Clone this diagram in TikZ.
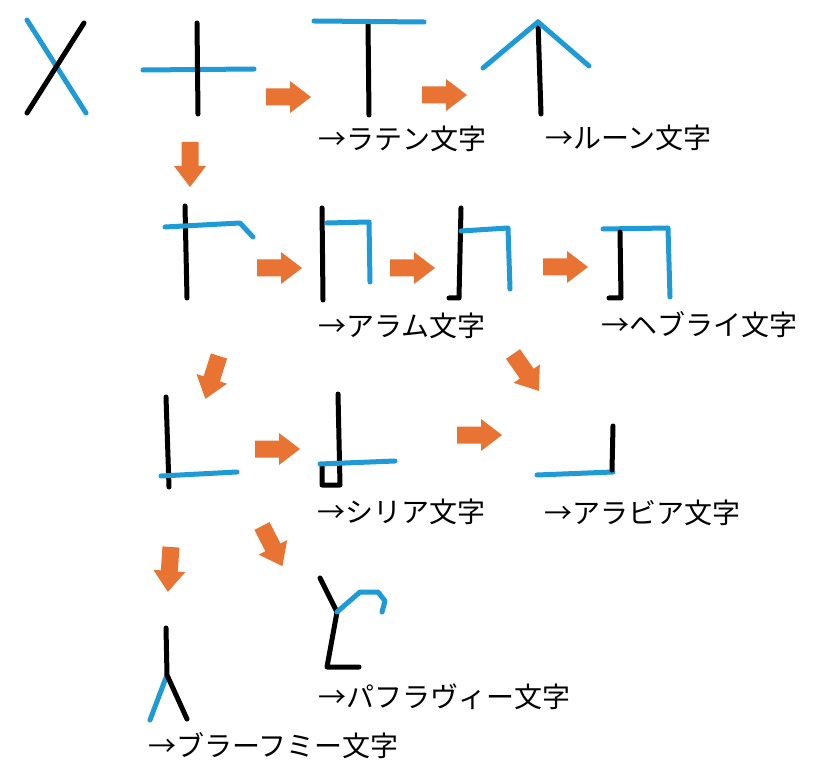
\documentclass[tikz,border=0pt]{standalone}
\usepackage{fontspec}
\newfontfamily\jpfont{Noto Sans CJK JP}
\definecolor{strokeblue}{RGB}{30,155,215}
\definecolor{arroworange}{RGB}{233,115,50}
\tikzset{
  bk/.style={draw=black, line width=5pt, line cap=round, line join=round},
  bl/.style={draw=strokeblue, line width=5pt, line cap=round, line join=round},
  lbl/.style={anchor=west, inner sep=0pt, font=\jpfont\fontsize{28}{28}\selectfont},
  barrow/.pic={\fill[arroworange] (0,-8.5) -- (24,-8.5) -- (24,-16) -- (45,0) -- (24,16) -- (24,8.5) -- (0,8.5) -- cycle;}
}
\begin{document}
\begin{tikzpicture}[x=1pt,y=-1pt]
\useasboundingbox[fill=white] (0,0) rectangle (819,783);
% row 1
\draw[bl] (27,20) -- (86,113);
\draw[bk] (84,23) -- (27,113);
\draw[bl] (143,70) -- (254,69);
\draw[bk] (197,23) -- (198,114);
\draw[bk] (368,23) -- (369,115);
\draw[bl] (314,21) -- (424,22);
\draw[bk] (538,22) -- (541,114);
\draw[bl] (483,68) -- (538,22) -- (589,66);
\pic at (266,97) {barrow};
\pic at (422,95) {barrow};
\pic[rotate=-90] at (190,142) {barrow};
\node[lbl] (latin) at (318,139) {→ラテン文字};
\node[lbl] (rune) at (545,138) {→ルーン文字};
% row 2
\draw[bk] (185,206) -- (187,298);
\draw[bl] (165,227) -- (240,223) -- (253,237);
\pic at (257,268) {barrow};
\draw[bk] (322,208) -- (323,300);
\draw[bl] (327,223) -- (369,222) -- (370,282);
\pic at (390,268) {barrow};
\draw[bk] (461,208) -- (459,298) -- (449,298);
\draw[bl] (461,231) -- (508,228) -- (510,289);
\pic at (543,267) {barrow};
\draw[bl] (603,229) -- (668,228) -- (670,297);
\draw[bk] (620,232) -- (621,298) -- (609,298);
\node[lbl] (aramaic) at (318,326) {→アラム文字};
\node[lbl] (hebrew) at (601,325) {→ヘブライ文字};
% row 3
\pic[rotate=-107.6] at (219,356) {barrow};
\pic[rotate=-55] at (513,354) {barrow};
\draw[bk] (166,397) -- (169,487);
\draw[bl] (161,476) -- (237,472);
\pic at (255,449) {barrow};
\draw[bk] (338,394) -- (340,485) -- (322,485) -- (322,465);
\draw[bl] (320,464) -- (395,461);
\pic at (457,435) {barrow};
\draw[bl] (537,475) -- (613,472);
\draw[bk] (613,426) -- (612,470);
\node[lbl] (syriac) at (317,512) {→シリア文字};
\node[lbl] (arabic) at (544,513) {→アラビア文字};
% row 4
\pic[rotate=-94] at (171,547) {barrow};
\pic[rotate=-63] at (262,526) {barrow};
\draw[bl] (150,720) -- (167,675);
\draw[bk] (166,628) -- (167,675) -- (187,719);
\draw[bk] (320,578) -- (337,612) -- (327,667) -- (359,667);
\draw[bl] (337,612) -- (360,592) -- (378,592) -- (385,601) -- (382,612);
\node[lbl] (pahlavi) at (318,697) {→パフラヴィー文字};
\node[lbl] (brahmi) at (148,746) {→ブラーフミー文字};
\end{tikzpicture}
\end{document}
